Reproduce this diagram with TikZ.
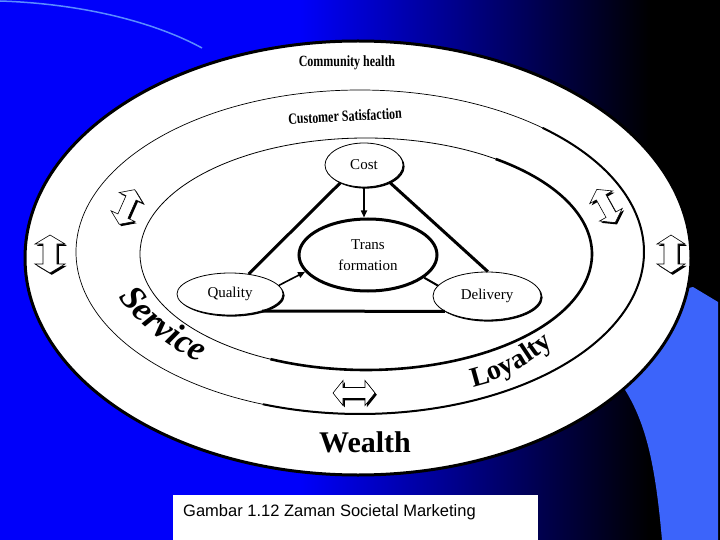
\documentclass[tikz,border=0pt]{standalone}
\usepackage{fontspec}
\setmainfont{Liberation Serif}
\newfontfamily\capfont{Liberation Sans}
\usetikzlibrary{shapes.geometric,shadows,arrows.meta,decorations.text}
\definecolor{bgblue}{RGB}{0,0,250}
\definecolor{lightblue}{RGB}{60,100,250}
\definecolor{arcblue}{RGB}{90,140,255}
% #1 L, #2 W (head width), #3 w (shaft), #4 h (head length)
\newcommand{\dblarrowpath}[4]{({-#1/2},0) -- ({-#1/2+#4},{#2/2}) -- ({-#1/2+#4},{#3/2}) -- ({#1/2-#4},{#3/2}) -- ({#1/2-#4},{#2/2}) -- ({#1/2},0) -- ({#1/2-#4},{-#2/2}) -- ({#1/2-#4},{-#3/2}) -- ({-#1/2+#4},{-#3/2}) -- ({-#1/2+#4},{-#2/2}) -- cycle}
% x y angle L W w h
\newcommand{\dblarrowdraw}[7]{%
  \begin{scope}[shift={(#1+1.8,#2+1.8)},rotate=#3]
    \fill[black] \dblarrowpath{#4}{#5}{#6}{#7};
  \end{scope}
  \begin{scope}[shift={(#1,#2)},rotate=#3]
    \filldraw[fill=white,draw=black,line width=0.6pt] \dblarrowpath{#4}{#5}{#6}{#7};
  \end{scope}}
\newcommand{\svcfont}{\fontsize{35}{37}\selectfont\bfseries\itshape}
\newcommand{\loyfont}{\fontsize{28}{30}\selectfont\bfseries}
\tikzset{
  smallell/.style={ellipse, draw, line width=0.8pt, fill=white, inner sep=0pt,
    font=\fontsize{15}{18}\selectfont,
    drop shadow={shadow xshift=1.6pt, shadow yshift=-1.6pt, opacity=1, fill=black}},
  conn/.style={line width=3pt},
  arr/.style={line width=1.6pt, -{Triangle[length=7pt,width=6pt]}},
  band/.style={font=\fontsize{12}{14}\selectfont\bfseries, inner sep=0pt}
}
\begin{document}
\begin{tikzpicture}[x=1pt,y=-1pt]
\useasboundingbox (0,0) rectangle (720,540);
% background
\fill[bgblue] (0,0) rectangle (720,540);
\shade[left color=bgblue, right color=black] (300,0) rectangle (650,540);
\fill[black] (650,0) rectangle (720,540);
\fill[lightblue] (662,540) .. controls (655,460) and (645,420) .. (622,385) -- (640,300) -- (693,287) -- (718,302) -- (718,540) -- cycle;
\draw[arcblue, line width=1.5pt] (0,1) .. controls (90,4) and (160,25) .. (202,48);
% big ellipses
\filldraw[fill=white, line width=3pt] (358,258) ellipse [x radius=333pt, y radius=217pt];
\draw[line width=0.7pt] (360,252) ellipse [x radius=284pt, y radius=162pt];
\draw[line width=2pt] plot[domain=-50:110, samples=80, smooth] ({360+284*cos(\x)}, {252+162*sin(\x)});
\draw[line width=0.8pt] (366,254) ellipse [x radius=226pt, y radius=116pt];
\draw[line width=2.6pt] plot[domain=-55:115, samples=80, smooth] ({366+226*cos(\x)}, {254+116*sin(\x)});
% band texts
\node[band] (community) at (347,63) {\scalebox{1}[1.3]{Community health}};
\node[band, rotate=3] (custsat) at (345,116) {\scalebox{1}[1.3]{Customer Satisfaction}};
\node[font=\fontsize{30}{32}\selectfont\bfseries, inner sep=0pt] (wealth) at (365,442) {Wealth};
\path[decorate, decoration={text along path, text align=center, text={|\svcfont|Service}}]
  (110.5,283) -- (118,296) .. controls (130,317) and (169,350) .. (201,363) -- (214,369.7);
\path[decorate, decoration={text along path, text align=center, text={|\loyfont|Loyalty}}]
  (461,389) -- (476,386) .. controls (500,381) and (530,364) .. (551,346) -- (562.5,336.4);
% block arrows
\dblarrowdraw{50}{254}{90}{38}{30}{14}{9}
\dblarrowdraw{671}{254}{90}{38}{28}{14}{9}
\dblarrowdraw{127}{207}{66}{38}{26}{11}{9}
\dblarrowdraw{606}{206}{119}{38}{26}{11}{9}
\dblarrowdraw{354}{393}{0}{42}{25}{11}{10}
% inner nodes
\node[smallell, minimum width=78pt, minimum height=44pt] (cost) at (364,165) {Cost};
\node[ellipse, draw, line width=3pt, fill=white, minimum width=138pt, minimum height=72pt, inner sep=0pt, align=center, font=\fontsize{15}{21}\selectfont] (trans) at (368,255) {Trans\\formation};
\node[smallell, minimum width=106pt, minimum height=42pt] (quality) at (230,294) {Quality};
\node[smallell, minimum width=108pt, minimum height=48pt] (delivery) at (487,296) {Delivery};
% connectors
\draw[conn] (cost.217) -- (quality.47);
\draw[conn] (cost.-34) -- (delivery.88);
\draw[conn] (quality.-28) -- (delivery.200);
\draw[arr] (cost.south) -- (cost.south |- trans.north);
\draw[arr] (quality.10) -- (trans.195);
\draw[line width=2pt] (trans.-22) -- (delivery.168);
% caption
\node[fill=white, anchor=north west, minimum width=365pt, minimum height=45pt, inner sep=0pt] (capbox) at (173,495) {};
\node[anchor=base west, inner sep=0pt, font=\capfont\fontsize{16.5}{18}\selectfont] (caption) at (183,516) {Gambar 1.12 Zaman Societal Marketing};
\end{tikzpicture}
\end{document}
